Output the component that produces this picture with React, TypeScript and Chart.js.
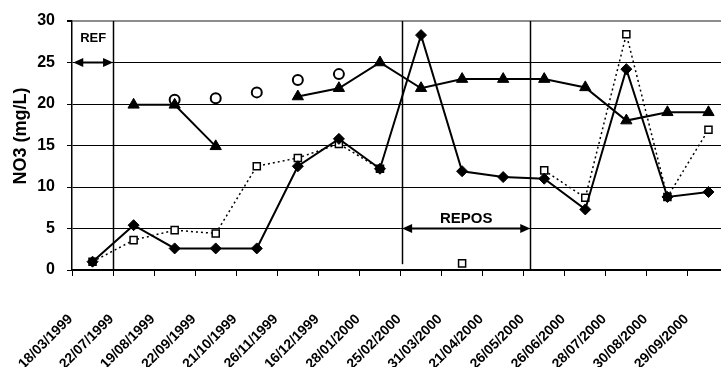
import React, { useEffect, useRef } from 'react';
import { Chart, registerables } from 'chart.js';

Chart.register(...registerables);

// ---- data ----
const categories = [
  '18/03/1999', '22/07/1999', '19/08/1999', '22/09/1999', '21/10/1999', '26/11/1999',
  '16/12/1999', '28/01/2000', '25/02/2000', '31/03/2000', '21/04/2000', '26/05/2000',
  '26/06/2000', '28/07/2000', '30/08/2000', '29/09/2000',
];
const seriesDiamond = [1.0, 5.4, 2.6, 2.6, 2.6, 12.5, 15.8, 12.2, 28.3, 11.9, 11.2, 11.0, 7.3, 24.2, 8.8, 9.4];
const seriesTriangle = [null, 19.9, 19.9, 14.9, null, 20.9, 21.9, 25.0, 21.9, 23.0, 23.0, 23.0, 22.0, 18.0, 19.0, 19.0];
const seriesCircle = [null, null, 20.5, 20.7, 21.4, 22.9, 23.6, null, null, null, null, null, null, null, null, null];
const seriesSquare = [1.0, 3.6, 4.8, 4.4, 12.5, 13.5, 15.2, 12.2, null, 0.8, null, 12.0, 8.7, 28.4, 8.8, 16.9];

const yMin = 0;
const yMax = 30;
const yStep = 5;
const yTitle = 'NO3 (mg/L)';

// period annotations (category index units / mg/L units)
const dividerAt = [0.5, 7.54, 10.66];
const dividerFrom = [0, 0.7, 0];
const refLabel = 'REF';
const refSpan = [-0.47, 0.5];
const refLevel = 25;
const refLabelLevel = 27.9;
const reposLabel = 'REPOS';
const reposSpan = [7.54, 10.66];
const reposLevel = 5;
const reposLabelLevel = 6.2;

const FONT = 'Arial, "Liberation Sans", Helvetica, sans-serif';

function drawArrow(ctx: CanvasRenderingContext2D, x1: number, x2: number, y: number) {
  const L = 10;
  const W = 4.5;
  ctx.lineWidth = 2;
  ctx.beginPath();
  ctx.moveTo(x1 + L - 1, y);
  ctx.lineTo(x2 - L + 1, y);
  ctx.stroke();
  ctx.beginPath();
  ctx.moveTo(x1, y);
  ctx.lineTo(x1 + L, y - W);
  ctx.lineTo(x1 + L, y + W);
  ctx.closePath();
  ctx.fill();
  ctx.beginPath();
  ctx.moveTo(x2, y);
  ctx.lineTo(x2 - L, y - W);
  ctx.lineTo(x2 - L, y + W);
  ctx.closePath();
  ctx.fill();
}

const periodsPlugin = {
  id: 'periods',
  beforeDatasetsDraw(chart: any) {
    const { ctx, scales } = chart;
    const x = scales.x;
    const y = scales.y;
    ctx.save();
    ctx.strokeStyle = '#000';
    ctx.fillStyle = '#000';
    ctx.lineWidth = 1.5;
    dividerAt.forEach((d, i) => {
      const px = Math.round(x.getPixelForValue(d)) + 0.5;
      ctx.beginPath();
      ctx.moveTo(px, y.getPixelForValue(dividerFrom[i]));
      ctx.lineTo(px, y.getPixelForValue(yMax));
      ctx.stroke();
    });
    drawArrow(ctx, x.getPixelForValue(refSpan[0]), x.getPixelForValue(refSpan[1]), y.getPixelForValue(refLevel));
    drawArrow(ctx, x.getPixelForValue(reposSpan[0]), x.getPixelForValue(reposSpan[1]), y.getPixelForValue(reposLevel));
    ctx.textAlign = 'center';
    ctx.textBaseline = 'middle';
    ctx.font = `bold 13px ${FONT}`;
    ctx.fillText(refLabel, x.getPixelForValue((refSpan[0] + refSpan[1]) / 2), y.getPixelForValue(refLabelLevel));
    ctx.font = `bold 15px ${FONT}`;
    ctx.fillText(reposLabel, x.getPixelForValue((reposSpan[0] + reposSpan[1]) / 2), y.getPixelForValue(reposLabelLevel));
    // y axis title
    ctx.font = `bold 18px ${FONT}`;
    ctx.translate(21, 136);
    ctx.rotate(-Math.PI / 2);
    ctx.fillText(yTitle, 0, 0);
    ctx.restore();
  },
};

export default function App() {
  const ref = useRef<HTMLCanvasElement>(null);
  useEffect(() => {
    const chart = new Chart(ref.current as HTMLCanvasElement, {
      type: 'line',
      data: {
        labels: categories,
        datasets: [
          {
            label: 'diamond',
            data: seriesDiamond,
            borderColor: '#000',
            borderWidth: 2,
            pointStyle: 'rectRot',
            pointRadius: 5.5,
            pointBackgroundColor: '#000',
            pointBorderColor: '#000',
            pointBorderWidth: 1,
            tension: 0,
          },
          {
            label: 'triangle',
            data: seriesTriangle,
            borderColor: '#000',
            borderWidth: 2,
            pointStyle: 'triangle',
            pointRadius: 6.5,
            pointBackgroundColor: '#000',
            pointBorderColor: '#000',
            pointBorderWidth: 1,
            tension: 0,
          },
          {
            label: 'square',
            data: seriesSquare,
            borderColor: '#000',
            borderWidth: 1.5,
            borderDash: [2, 3],
            pointStyle: 'rect',
            pointRadius: 5,
            pointBackgroundColor: '#fff',
            pointBorderColor: '#000',
            pointBorderWidth: 1.5,
            tension: 0,
          },
          {
            label: 'circle',
            data: seriesCircle,
            showLine: false,
            borderColor: '#000',
            pointStyle: 'circle',
            pointRadius: 5,
            pointBackgroundColor: '#fff',
            pointBorderColor: '#000',
            pointBorderWidth: 2,
          },
        ] as any,
      },
      options: {
        animation: false,
        responsive: false,
        devicePixelRatio: 1,
        layout: { padding: { top: 21, right: 11, left: 0, bottom: 0 } },
        plugins: {
          legend: { display: false },
          tooltip: { enabled: false },
          title: { display: false },
        },
        scales: {
          x: {
            type: 'category',
            offset: true,
            grid: {
              offset: true,
              drawOnChartArea: false,
              drawTicks: true,
              tickLength: 6,
              color: '#000',
              lineWidth: 1,
            },
            border: { display: true, color: '#000', width: 1.5 },
            ticks: {
              autoSkip: false,
              minRotation: 45,
              maxRotation: 45,
              padding: 35,
              labelOffset: -22,
              color: '#000',
              font: { family: FONT, size: 14, weight: 'bold' },
            },
            afterFit: (s: any) => {
              s.height = 97;
              s.paddingLeft = 0;
              s.paddingRight = 0;
            },
          },
          y: {
            min: yMin,
            max: yMax,
            ticks: {
              stepSize: yStep,
              padding: 12,
              color: '#000',
              font: { family: FONT, size: 16, weight: 'bold' },
            },
            grid: {
              color: (c: any) => (c.tick && c.tick.value === yMax ? '#8c8c8c' : '#000'),
              lineWidth: (c: any) => (c.tick && c.tick.value === yMax ? 2 : 1),
              tickColor: '#000',
              tickLength: 5,
              drawTicks: true,
            },
            border: { display: true, color: '#000', width: 1.5 },
            afterFit: (s: any) => {
              s.width = 72;
              s.paddingTop = 0;
              s.paddingBottom = 0;
            },
          },
        },
      } as any,
      plugins: [periodsPlugin],
    });
    return () => chart.destroy();
  }, []);
  return (
    <div
      style={{
        position: 'fixed',
        left: 0,
        top: 0,
        width: 721,
        height: 367,
        overflow: 'hidden',
        background: '#fff',
      }}
    >
      <canvas ref={ref} width={740} height={367} style={{ display: 'block', width: 740, height: 367 }} />
    </div>
  );
}
